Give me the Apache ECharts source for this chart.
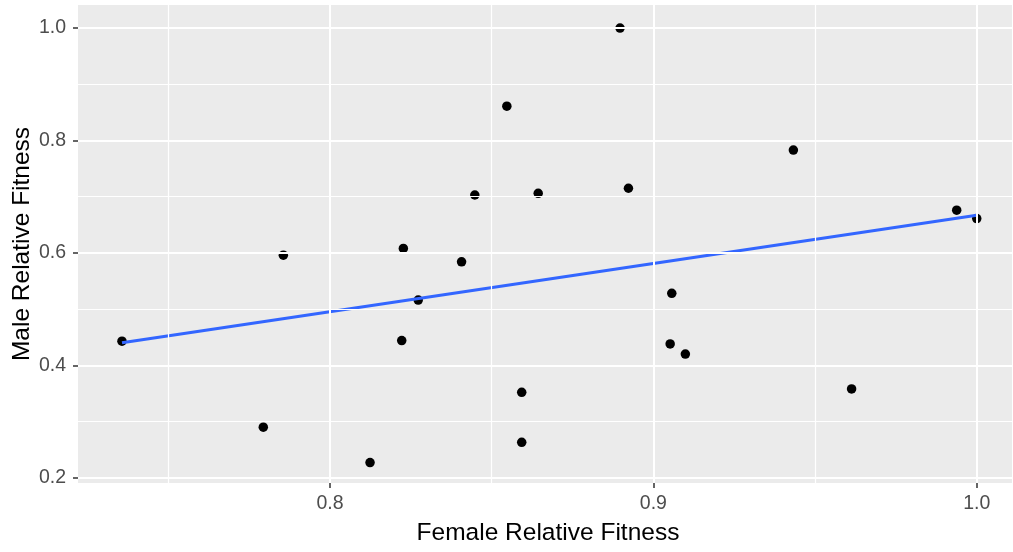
<!DOCTYPE html>
<html>
<head>
<meta charset="utf-8">
<script src="https://cdn.jsdelivr.net/npm/echarts@6/dist/echarts.min.js"></script>
<style>
html,body{margin:0;padding:0;background:#fff;}
#chart{width:1013px;height:552px;}
</style>
</head>
<body>
<div id="chart"></div>
<script>
// Data
var femaleFitness = [0.7357, 0.7794, 0.7856, 0.8124, 0.8222, 0.8227, 0.8273, 0.8407, 0.8448, 0.8547, 0.8593, 0.8593, 0.8644, 0.8897, 0.8923, 0.9052, 0.9057, 0.9099, 0.9433, 0.9613, 0.9938, 1.0000];
var maleFitness   = [0.443, 0.290, 0.596, 0.227, 0.444, 0.608, 0.516, 0.584, 0.703, 0.861, 0.352, 0.263, 0.706, 1.000, 0.715, 0.438, 0.528, 0.420, 0.783, 0.358, 0.676, 0.661];
// Linear fit line endpoints
var fitX = [0.7357, 1.0];
var fitY = [0.440, 0.667];
// Axis ticks
var xMajorTicks = [0.8, 0.9, 1.0];
var xMinorTicks = [0.75, 0.85, 0.95];
var yMajorTicks = [0.2, 0.4, 0.6, 0.8, 1.0];
var yMinorTicks = [0.3, 0.5, 0.7, 0.9];
var xRange = [0.7221, 1.0109];
var yRange = [0.1906, 1.041];

var points = femaleFitness.map(function (x, i) { return [x, maleFitness[i]]; });
var fitLine = fitX.map(function (x, i) { return [x, fitY[i]]; });

var gridLines = [];
xMinorTicks.forEach(function (v) { gridLines.push({ xAxis: v, lineStyle: { width: 1.2 } }); });
yMinorTicks.forEach(function (v) { gridLines.push({ yAxis: v, lineStyle: { width: 1.2 } }); });
xMajorTicks.forEach(function (v) { gridLines.push({ xAxis: v, lineStyle: { width: 2 } }); });
yMajorTicks.forEach(function (v) { gridLines.push({ yAxis: v, lineStyle: { width: 2 } }); });

var FONT = 'Liberation Sans, Arial, sans-serif';
var chart = echarts.init(document.getElementById('chart'), null, { renderer: 'canvas' });
chart.setOption({
  animation: false,
  backgroundColor: '#ffffff',
  grid: { left: 78, top: 5, right: 1, bottom: 69, show: true, backgroundColor: '#EBEBEB', borderWidth: 0,
          containLabel: false, outerBoundsMode: 'none' },
  xAxis: {
    type: 'value', min: xRange[0], max: xRange[1],
    name: 'Female Relative Fitness', nameLocation: 'middle', nameGap: 38,
    nameTextStyle: { fontFamily: FONT, fontSize: 24.5, color: '#000', padding: [0, 0, 0, 6] },
    axisLine: { show: false },
    axisTick: { show: true, length: 5, customValues: xMajorTicks, lineStyle: { color: '#333333', width: 1.5 } },
    axisLabel: { customValues: xMajorTicks, margin: 11, fontFamily: FONT, fontSize: 19.5, color: '#4D4D4D',
      formatter: function (v) { return v.toFixed(1); } },
    splitLine: { show: false }
  },
  yAxis: {
    type: 'value', min: yRange[0], max: yRange[1],
    name: 'Male Relative Fitness', nameLocation: 'middle', nameGap: 43, nameMoveOverlap: false,
    nameTextStyle: { fontFamily: FONT, fontSize: 24.5, color: '#000' },
    axisLine: { show: false },
    axisTick: { show: true, length: 5, customValues: yMajorTicks, lineStyle: { color: '#333333', width: 1.5 } },
    axisLabel: { customValues: yMajorTicks, margin: 12, fontFamily: FONT, fontSize: 19.5, color: '#4D4D4D',
      formatter: function (v) { return v.toFixed(1); } },
    splitLine: { show: false }
  },
  series: [
    {
      type: 'line', data: [], z: 1, silent: true,
      markLine: {
        silent: true, symbol: ['none', 'none'], animation: false,
        label: { show: false },
        lineStyle: { color: '#ffffff', type: 'solid' },
        emphasis: { disabled: true },
        data: gridLines
      }
    },
    {
      type: 'scatter', data: points, z: 2, symbol: 'circle', symbolSize: 9.5,
      itemStyle: { color: '#000000', opacity: 1 }
    },
    {
      type: 'line', data: fitLine, z: 3, showSymbol: false, symbol: 'none', silent: true,
      lineStyle: { color: '#3366FF', width: 3 }
    }
  ]
});
</script>
</body>
</html>
